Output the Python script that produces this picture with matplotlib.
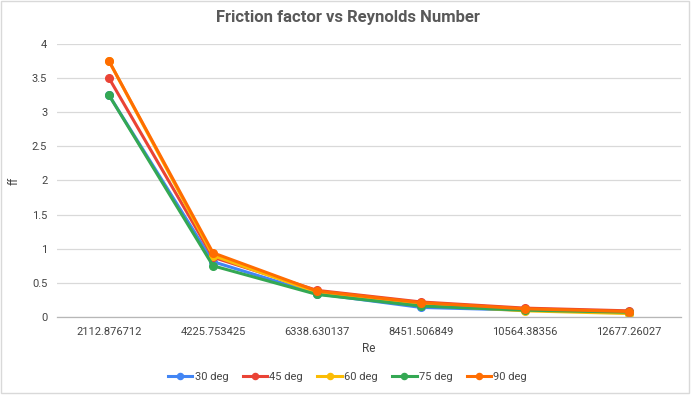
import matplotlib
matplotlib.use("Agg")
import matplotlib.pyplot as plt
from matplotlib.patches import Rectangle

re_labels = ["2112.876712", "4225.753425", "6338.630137", "8451.506849", "10564.38356", "12677.26027"]
series_names = ["30 deg", "45 deg", "60 deg", "75 deg", "90 deg"]
ff_30 = [3.25, 0.81, 0.34, 0.14, 0.10, 0.07]
ff_45 = [3.50, 0.875, 0.39, 0.22, 0.13, 0.09]
ff_60 = [3.75, 0.90, 0.36, 0.18, 0.09, 0.05]
ff_75 = [3.25, 0.75, 0.33, 0.16, 0.10, 0.07]
ff_90 = [3.75, 0.94, 0.38, 0.21, 0.12, 0.08]
colors = ["#4285F4", "#EA4335", "#FBBC04", "#34A853", "#FF6D01"]

plt.rcParams['font.family'] = ['Roboto', 'DejaVu Sans']

fig = plt.figure(figsize=(6.95, 3.95), dpi=100)
ax = fig.add_axes([0.082, 0.1975, 0.898, 0.6911])

xs = list(range(len(re_labels)))
for name, vals, c in zip(series_names, [ff_30, ff_45, ff_60, ff_75, ff_90], colors):
    ax.plot(xs, vals, color=c, lw=2.2, marker='o', ms=5.5, label=name)

ax.set_xlim(-0.5, len(re_labels) - 0.5)
ax.set_ylim(0, 4)
ax.set_yticks([0, 0.5, 1, 1.5, 2, 2.5, 3, 3.5, 4])
ax.set_yticklabels(["0", "0.5", "1", "1.5", "2", "2.5", "3", "3.5", "4"])
ax.set_xticks(xs)
ax.set_xticklabels(re_labels)
ax.tick_params(axis='both', length=0, labelsize=8, labelcolor='#444444')
ax.tick_params(axis='y', pad=7)
ax.tick_params(axis='x', pad=7)
ax.grid(axis='y', color='#d9d9d9', lw=0.9)
ax.set_axisbelow(True)
for s in ['top', 'right', 'left']:
    ax.spines[s].set_visible(False)
ax.spines['bottom'].set_color('#b7b7b7')
ax.spines['bottom'].set_linewidth(0.9)

ax.set_xlabel("Re", fontsize=8.5, color='#444444', labelpad=4)
ax.set_ylabel("ff", fontsize=8.5, color='#444444')
ax.yaxis.set_label_coords(-0.058, 0.5)
fig.text(0.5, 0.955, "Friction factor vs Reynolds Number", ha='center', va='center',
         fontsize=12, fontweight='bold', color='#595959')

ax.legend(loc='center', bbox_to_anchor=(0.5, 0.045), bbox_transform=fig.transFigure,
          ncol=5, frameon=False, fontsize=8, labelcolor='#444444',
          handlelength=2.2, handletextpad=0.2, columnspacing=1.3, markerscale=0.8)

fig.patches.append(Rectangle((0.002, 0.004), 0.99, 0.993, transform=fig.transFigure,
                             fill=False, edgecolor='#d9d9d9', lw=1))

fig.savefig("out.png", dpi=100, facecolor='white')
